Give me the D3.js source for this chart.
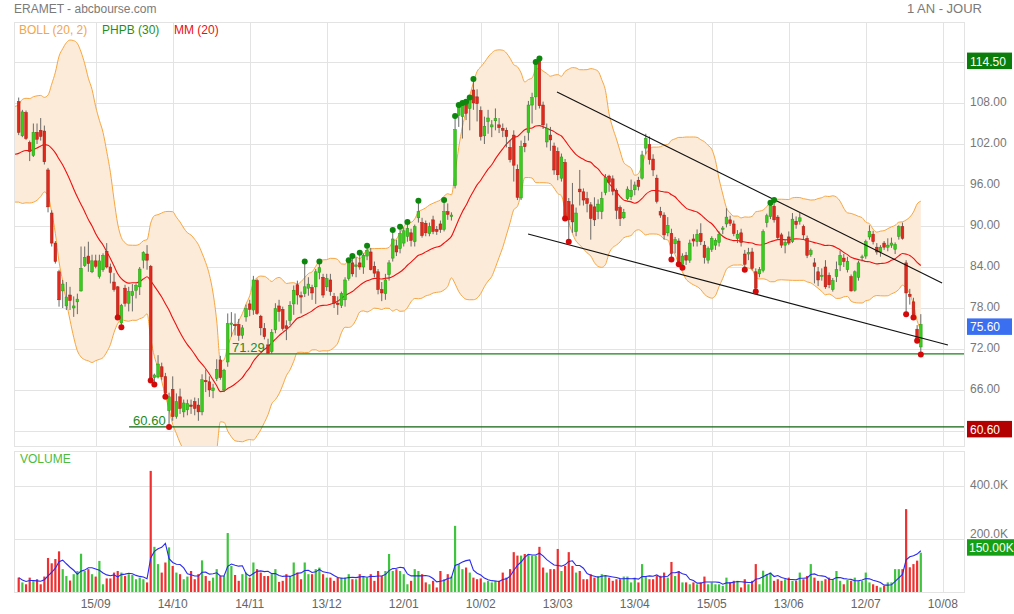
<!DOCTYPE html>
<html><head><meta charset="utf-8">
<script src="https://cdn.jsdelivr.net/npm/d3@7/dist/d3.min.js"></script>
<style>body{margin:0;background:#fff;}svg{display:block;font-family:"Liberation Sans",Arial,sans-serif;}</style>
</head><body><svg id="c" width="1014" height="614"></svg>
<script>
// ---------- DATA ----------
const opens=[108.2,103.2,106.6,102.2,100.3,103.7,104.0,103.9,98.2,91.9,
87.5,83.3,80.5,78.3,79.9,78.0,78.9,80.5,84.2,85.6,
83.3,84.9,82.6,83.6,86.3,84.0,81.8,81.1,75.8,80.9,
78.7,79.8,80.6,81.1,85.0,85.9,84.1,67.8,67.9,69.4,
67.95,63.0,66.1,62.1,65.0,62.8,63.1,63.8,64.3,63.8,
62.8,67.4,67.2,65.9,67.7,70.4,66.0,70.1,75.6,75.6,
75.6,74.0,76.7,78.6,77.7,82.0,76.8,75.0,72.6,71.6,
74.8,78.3,77.8,75.4,76.2,78.6,81.4,79.8,80.1,80.9,
81.0,81.1,83.2,82.5,81.1,82.1,79.7,78.7,78.4,79.2,
82.3,84.6,84.1,84.6,84.0,85.6,86.2,84.1,83.3,80.7,
80.1,82.9,85.3,87.1,86.7,87.5,88.5,89.0,87.7,91.2,
90.5,90.4,88.9,90.9,89.5,90.3,89.5,92.1,91.4,95.9,
106.2,106.0,107.9,107.2,109.9,108.9,106.9,103.2,105.3,104.5,
105.4,104.8,104.3,104.0,101.5,103.3,98.3,94.1,102.1,103.7,
107.7,108.9,114.2,107.7,102.3,103.3,101.7,100.9,97.0,99.3,
93.6,93.1,89.2,95.4,95.0,94.0,93.1,92.8,92.1,92.1,
94.9,97.3,96.9,95.2,92.7,91.2,94.0,94.3,95.3,96.7,
97.0,101.4,101.9,99.8,97.0,92.1,91.6,89.0,88.9,87.4,
87.8,84.4,85.7,85.0,88.1,87.7,88.9,87.2,85.0,86.6,
87.2,87.6,89.5,90.3,90.9,90.3,88.2,89.0,85.9,85.9,
86.2,83.3,83.0,83.5,90.5,91.4,92.9,91.3,88.7,87.2,
88.4,87.7,90.7,90.7,89.9,88.2,85.8,84.6,83.3,82.6,
84.0,82.8,80.7,82.6,84.3,85.3,83.6,82.6,80.6,82.5,
85.4,85.6,88.4,88.8,86.9,86.2,87.5,86.9,87.2,86.6,
88.5,89.9,84.6,80.0,78.9,74.9,72.3];
const highs=[108.8,107.0,106.9,102.5,105.0,105.0,105.8,104.7,98.5,92.3,
87.8,83.6,82.1,81.8,81.1,79.7,80.1,87.0,87.0,87.7,
85.8,85.8,85.8,86.0,87.5,84.5,83.1,81.2,78.6,81.4,
81.1,81.5,81.6,84.0,86.3,87.2,84.3,68.4,71.1,70.0,
68.5,65.6,68.0,65.5,66.2,64.6,64.6,64.6,64.9,64.8,
68.3,69.0,68.0,66.9,70.5,71.0,69.1,77.2,77.4,77.2,
76.4,75.5,78.5,79.2,82.7,82.3,77.0,75.8,73.5,74.9,
78.7,79.2,78.2,76.2,79.0,81.3,82.0,80.4,84.8,82.5,
81.4,83.7,84.8,83.0,83.0,83.0,80.2,79.7,80.4,82.5,
85.0,85.6,85.4,86.1,86.0,87.1,86.8,84.8,83.7,81.8,
83.0,85.0,89.4,88.0,89.9,89.8,90.6,89.6,90.2,93.7,
91.2,90.8,90.5,91.5,90.0,90.8,93.8,93.3,92.0,106.1,
107.7,108.0,108.2,108.8,111.5,110.0,107.5,106.0,107.0,105.5,
107.2,105.8,105.0,104.4,102.6,104.0,99.0,102.5,103.2,108.3,
109.5,114.0,114.5,108.2,105.0,104.5,102.2,101.5,100.6,99.8,
94.1,96.3,92.7,98.2,95.5,95.0,93.5,94.2,93.9,95.0,
97.6,97.5,97.4,95.5,93.0,92.5,95.8,96.8,96.5,97.2,
101.0,103.5,103.1,100.5,97.5,92.8,92.0,91.3,89.6,88.4,
88.2,86.0,86.2,88.0,88.8,89.5,90.4,87.8,87.0,88.5,
88.2,89.2,90.0,92.6,91.5,90.8,89.4,89.6,86.5,86.8,
86.8,83.8,84.0,89.5,91.8,93.4,93.8,91.6,89.0,88.0,
89.2,91.9,91.4,91.9,90.2,88.6,86.7,85.3,84.0,83.8,
85.0,83.2,82.4,84.8,86.4,85.9,85.5,82.9,83.5,84.9,
85.8,88.0,90.1,89.3,87.5,87.2,87.8,88.2,88.3,87.6,
90.1,90.5,85.0,80.8,79.5,75.5,77.1];
const lows=[103.3,103.0,102.6,99.5,100.1,102.0,102.5,99.0,92.0,87.0,
84.5,78.2,78.0,77.7,77.7,76.7,77.1,80.4,84.0,83.3,
83.1,83.8,82.3,83.3,83.8,81.6,80.4,76.6,75.2,78.2,
77.5,77.5,79.4,79.9,83.8,83.6,67.4,66.8,67.7,67.5,
65.0,60.6,61.5,61.8,62.5,62.0,62.3,62.5,62.3,61.5,
62.3,65.7,65.0,64.8,67.3,67.5,65.7,69.4,73.8,74.0,
73.2,73.5,76.0,76.8,77.0,77.0,74.0,73.4,71.29,71.3,
74.3,76.0,74.7,73.3,75.5,77.0,78.5,77.2,79.6,79.8,
79.2,78.6,82.2,79.5,80.5,79.8,78.0,77.0,78.0,78.2,
82.0,82.6,82.5,83.6,83.0,85.0,83.5,82.5,80.0,79.0,
79.2,82.0,84.8,85.6,86.0,87.0,87.7,87.0,87.0,90.5,
88.3,88.5,88.5,88.8,88.7,89.0,89.2,90.9,90.8,95.5,
104.5,102.8,105.5,104.0,107.0,105.3,102.5,102.0,103.5,103.0,
104.0,103.6,103.0,101.5,99.3,96.5,93.8,93.8,100.8,102.5,
105.0,107.0,107.2,104.2,101.5,101.0,97.5,96.7,96.5,91.1,
87.7,89.0,88.5,93.0,93.0,92.0,88.0,90.0,91.0,91.0,
94.5,95.0,94.5,91.0,90.0,91.0,93.8,93.8,94.5,95.2,
96.8,100.5,99.0,97.3,93.3,91.2,88.0,88.5,85.1,86.0,
84.4,83.9,84.3,84.6,87.0,87.0,87.2,84.5,84.5,86.2,
86.5,87.0,88.8,89.8,90.0,88.5,87.5,87.0,83.6,85.0,
83.5,80.4,82.5,83.2,89.8,91.0,90.5,88.0,86.8,86.0,
87.2,87.5,89.6,90.2,88.0,85.3,85.5,81.6,81.2,82.0,
80.8,80.9,80.4,81.8,83.4,84.0,83.2,80.4,80.4,82.0,
84.8,85.2,88.0,87.3,85.8,85.5,86.5,86.3,86.8,85.9,
88.0,88.0,77.1,78.5,76.6,73.2,71.2];
const closes=[103.7,106.7,102.8,100.9,103.7,102.7,103.1,99.4,92.8,87.5,
84.8,79.2,81.5,79.6,79.1,78.3,79.3,83.8,85.4,84.5,
84.9,84.1,84.9,85.7,84.0,83.2,80.7,77.0,78.4,78.7,
80.4,80.4,81.3,83.7,86.1,85.0,67.5,68.2,69.8,67.95,
65.5,65.0,62.1,64.3,63.3,64.1,64.0,63.6,63.3,62.8,
67.5,67.2,66.0,66.3,69.0,67.8,68.9,75.7,75.8,75.4,
74.0,75.1,77.9,77.8,82.1,77.2,75.1,73.8,71.4,74.4,
77.9,77.5,75.0,75.0,78.4,80.6,79.9,79.6,81.1,81.5,
80.2,83.3,83.9,79.9,82.3,80.4,78.7,78.5,80.1,82.1,
84.6,83.0,84.3,84.0,85.7,86.4,83.6,83.1,80.7,80.2,
82.1,84.6,88.1,86.2,88.9,89.3,89.6,87.9,89.9,92.1,
88.6,89.0,89.9,89.2,89.2,89.5,92.1,91.7,91.6,104.1,
107.4,107.7,106.5,108.6,108.0,107.9,103.1,104.6,105.8,104.8,
105.7,104.4,104.0,103.1,99.7,98.9,94.2,101.6,101.6,107.7,
108.8,113.8,107.6,104.8,104.3,102.6,98.2,97.5,100.1,91.2,
90.9,90.6,91.9,95.0,93.8,93.3,91.1,90.9,93.2,94.0,
97.1,96.4,95.1,92.3,91.1,92.0,95.4,95.2,96.0,95.8,
100.4,102.8,99.7,98.2,93.6,91.6,88.7,90.1,86.0,88.0,
84.8,85.6,85.0,87.5,87.8,88.8,87.7,85.4,86.7,88.2,
87.9,88.8,89.7,91.3,90.4,88.9,88.8,87.6,84.4,86.1,
83.8,80.9,83.6,89.2,91.5,93.0,90.9,88.3,87.2,87.6,
87.5,91.0,90.2,91.2,88.7,85.7,86.4,84.1,82.1,82.8,
81.1,81.4,82.0,83.6,85.7,84.8,84.8,80.5,83.3,84.6,
85.5,87.7,89.2,87.7,86.2,86.9,86.9,87.2,87.5,87.3,
89.9,88.2,80.2,79.7,76.9,73.4,75.6];
// volumes in thousands of shares
const volumesK=[56,38,31,56,44,50,31,60,
130,110,126,155,88,62,45,69,
81,146,81,88,69,60,119,31,
53,53,75,81,75,62,69,66,
50,56,50,38,458,172,107,75,
113,170,100,75,69,50,60,81,
50,69,121,62,44,56,88,62,
62,224,100,66,44,69,75,56,
113,88,75,62,62,69,88,40,
44,69,62,113,75,50,113,69,
69,88,94,69,56,56,44,56,
56,56,69,50,50,69,62,56,
69,44,81,62,81,145,81,88,
81,69,31,44,88,81,69,38,
31,44,19,81,50,69,60,251,
107,88,94,75,56,50,53,38,
44,38,44,44,75,56,88,152,
139,139,145,145,139,139,172,94,
75,88,88,164,81,100,152,100,
75,81,50,50,69,56,62,69,
62,56,44,50,50,60,60,38,
56,38,107,62,50,50,62,63,
75,56,115,62,81,38,38,31,
38,31,38,60,31,38,31,31,
25,56,38,44,44,19,50,31,
44,107,31,82,69,75,44,50,
44,50,56,44,44,75,50,62,
107,56,44,44,50,56,50,81,
44,31,47,44,56,44,44,75,
38,31,25,19,25,38,38,88,
88,88,314,95,107,120,150];
// closes before the first visible session (needed for the 20-day window)
const priorCloses=[101.2,101.0,100.3,101.5,100.0,98.5,97.0,95.5,94.7,96.3,98.0,97.4,99.1,100.7,102.3,104.0,103.1,105.3,106.7,107.5];
const dateLabels=["15/09","14/10","14/11","13/12","12/01","10/02","13/03","13/04","15/05","13/06","12/07","10/08"];
const dateIdx=[21,42,63,84,105,126,147,168,189,210,231,252];
const priceTicks=[108,102,96,90,84,78,72,66];
const gridPrices=[114,108,102,96,90,84,78,72,66,60];
const volTicks=[400000,200000];
const phIdx=[78,82,90,91,93,95,102,104,106,109,116,119,120,121,122,123,124,141,142,205,206];
const pbIdx=[27,28,36,37,40,41,149,150,178,180,181,198,201,242,244,245,246];
const trendLines=[{i0:146.8,p0:109.6,i1:251.8,p1:81.66},{i0:138.9,p0:88.83,i1:253.4,p1:72.59}];
const levels=[{price:71.29,i0:57.1,label:"71.29",color:"#188018"},{price:60.60,i0:30.1,label:"60.60",color:"#126012"}];
const maxHigh=114.50, minLow=60.60, lastClose=75.60, lastVol=150000;

// ---------- LAYOUT ----------
const L=14,R=964,PT=22,PB=446,VT=451,VB=592;
const svg=d3.select("#c");
const x=d3.scaleLinear().domain([0,252]).range([18.7,942.8]);
const y=d3.scaleLinear().domain([60,114]).range([431,62]);
const yv=d3.scaleLinear().domain([0,400000]).range([592.5,486.3]);
const GRID="#e3e3e3";

const defs=svg.append("defs");
defs.append("clipPath").attr("id","pclip").append("rect").attr("x",L).attr("y",PT).attr("width",R-L).attr("height",PB-PT);
defs.append("clipPath").attr("id","vclip").append("rect").attr("x",L).attr("y",VT).attr("width",R-L).attr("height",VB-VT);

// title
svg.append("text").attr("x",14).attr("y",13).attr("font-size",12).attr("fill","#7a7a7a").text("ERAMET - abcbourse.com");
svg.append("text").attr("x",982).attr("y",13).attr("font-size",13).attr("fill","#7a7a7a").attr("text-anchor","end").text("1 AN - JOUR");

// grids
const g=svg.append("g");
g.selectAll(".hg").data(gridPrices).join("line").attr("x1",L).attr("x2",R).attr("y1",d=>Math.round(y(d))+0.5).attr("y2",d=>Math.round(y(d))+0.5).attr("stroke",GRID);
g.selectAll(".vg").data(dateIdx).join("line").attr("x1",d=>Math.round(x(d))+0.5).attr("x2",d=>Math.round(x(d))+0.5).attr("y1",PT).attr("y2",PB).attr("stroke",GRID);
g.selectAll(".vg2").data(dateIdx).join("line").attr("x1",d=>Math.round(x(d))+0.5).attr("x2",d=>Math.round(x(d))+0.5).attr("y1",VT).attr("y2",VB).attr("stroke",GRID);
g.selectAll(".vh").data(volTicks).join("line").attr("x1",L).attr("x2",R).attr("y1",d=>Math.round(yv(d))+0.5).attr("y2",d=>Math.round(yv(d))+0.5).attr("stroke",GRID);
[[PT,PB],[VT,VB]].forEach(([t,b])=>{
  g.append("rect").attr("x",L+0.5).attr("y",t+0.5).attr("width",R-L).attr("height",b-t).attr("fill","none").attr("stroke",GRID);
});

// legend
svg.append("text").attr("x",19).attr("y",34).attr("font-size",12).attr("fill","#f6a545").text("BOLL (20, 2)");
svg.append("text").attr("x",102).attr("y",34).attr("font-size",12).attr("fill","#1f8f1f").text("PHPB (30)");
svg.append("text").attr("x",174).attr("y",34).attr("font-size",12).attr("fill","#e81010").text("MM (20)");

// ---------- INDICATORS ----------
const all=priorCloses.concat(closes);
const P=priorCloses.length;
const boll=[];
for(let i=-1;i<closes.length;i++){
  const k=i+P;
  const w=all.slice(k-19,k+1);
  const m=d3.mean(w);
  const sd=Math.sqrt(d3.mean(w,v=>(v-m)*(v-m)));
  boll.push({i,m,up:m+2*sd,lo:m-2*sd});
}
const pg=svg.append("g").attr("clip-path","url(#pclip)");
pg.append("path").datum(boll).attr("fill","#fdebd9").attr("d",d3.area().x(d=>x(d.i)).y0(d=>y(d.lo)).y1(d=>y(d.up)).curve(d3.curveMonotoneX));
pg.append("path").datum(boll).attr("fill","none").attr("stroke","#f7a640").attr("stroke-width",1).attr("d",d3.line().x(d=>x(d.i)).y(d=>y(d.up)).curve(d3.curveMonotoneX));
pg.append("path").datum(boll).attr("fill","none").attr("stroke","#f7a640").attr("stroke-width",1).attr("d",d3.line().x(d=>x(d.i)).y(d=>y(d.lo)).curve(d3.curveMonotoneX));
pg.append("path").datum(boll).attr("fill","none").attr("stroke","#ee1010").attr("stroke-width",1.1).attr("d",d3.line().x(d=>x(d.i)).y(d=>y(d.m)).curve(d3.curveMonotoneX));

// levels
levels.forEach(l=>{
  pg.append("line").attr("x1",x(l.i0)).attr("x2",R).attr("y1",y(l.price)).attr("y2",y(l.price)).attr("stroke",l.color).attr("stroke-width",1.1);
  pg.append("text").attr("x",x(l.i0)+4).attr("y",y(l.price)-2).attr("font-size",13).attr("fill","#1c8a1c").text(l.label);
});

// candles
const bars=d3.range(closes.length).map(i=>({i,o:opens[i],h:highs[i],l:lows[i],c:closes[i],v:volumesK[i]*1000}));
const cg=pg.append("g");
cg.selectAll("line").data(bars).join("line")
  .attr("x1",d=>x(d.i)).attr("x2",d=>x(d.i)).attr("y1",d=>y(d.h)).attr("y2",d=>y(d.l)).attr("stroke","#5a5a5a").attr("stroke-width",0.9);
cg.selectAll("rect").data(bars).join("rect")
  .attr("x",d=>x(d.i)-1.35).attr("width",2.7)
  .attr("y",d=>y(Math.max(d.o,d.c)))
  .attr("height",d=>Math.max(1,Math.abs(y(d.o)-y(d.c))))
  .attr("fill",d=>d.c>=d.o?"#38cc1c":"#e0281c")
  .attr("stroke",d=>d.c>=d.o?"#279a14":"#a81c12").attr("stroke-width",0.5);

// trend lines
pg.selectAll(".tl").data(trendLines).join("line")
  .attr("x1",d=>x(d.i0)).attr("y1",d=>y(d.p0)).attr("x2",d=>x(d.i1)).attr("y2",d=>y(d.p1))
  .attr("stroke","#111").attr("stroke-width",1.1);

// PHPB dots
pg.selectAll(".ph").data(phIdx).join("circle").attr("cx",i=>x(i)).attr("cy",i=>y(highs[i])).attr("r",3).attr("fill","#0e870e");
pg.selectAll(".pb").data(pbIdx).join("circle").attr("cx",i=>x(i)).attr("cy",i=>y(lows[i])).attr("r",3).attr("fill","#d40a0a");

// price axis labels
svg.selectAll(".pl").data(priceTicks).join("text").attr("x",970).attr("y",d=>y(d)+3).attr("font-size",12).attr("fill","#777").text(d=>d.toFixed(2));
function box(py,txt,col,h){
  svg.append("rect").attr("x",967).attr("y",py).attr("width",45).attr("height",h||16.5).attr("fill",col);
  svg.append("text").attr("x",970).attr("y",py+13).attr("font-size",12).attr("fill","#fff").text(txt);
}
box(y(maxHigh)-6,maxHigh.toFixed(2),"#0b7d0b");
box(y(lastClose)-6,lastClose.toFixed(2),"#3b6ff2");
box(y(minLow)-6,minLow.toFixed(2),"#b30000");

// ---------- VOLUME ----------
svg.append("text").attr("x",20).attr("y",463).attr("font-size",12).attr("fill","#4cbc3c").text("VOLUME");
const vg=svg.append("g").attr("clip-path","url(#vclip)");
vg.selectAll("rect").data(bars).join("rect")
  .attr("x",d=>x(d.i)-1.1).attr("width",2.2)
  .attr("y",d=>yv(d.v)).attr("height",d=>yv(0)-yv(d.v))
  .attr("fill",d=>d.c>=d.o?"#3fc43f":"#f03030");
const vma=bars.map((d,i)=>{const w=bars.slice(Math.max(0,i-4),i+1);return {i,v:d3.mean(w,b=>b.v)};});
vg.append("path").datum(vma).attr("fill","none").attr("stroke","#2a2af0").attr("stroke-width",1.1)
  .attr("d",d3.line().x(d=>x(d.i)).y(d=>yv(d.v)));
svg.selectAll(".vl").data(volTicks).join("text").attr("x",970).attr("y",d=>yv(d)+(d===200000?-1.5:3)).attr("font-size",12).attr("fill","#777").text(d=>(d/1000).toFixed(1)+"K");
svg.append("rect").attr("x",967).attr("y",yv(lastVol)-13.5).attr("width",47).attr("height",16.5).attr("fill","#159f15");
svg.append("text").attr("x",969).attr("y",yv(lastVol)-0.5).attr("font-size",12).attr("fill","#fff").text((lastVol/1000).toFixed(2)+"K");

// date labels
svg.selectAll(".dl").data(dateIdx).join("text").attr("x",(d)=>x(d)).attr("y",608).attr("font-size",12).attr("fill","#666").attr("text-anchor","middle").text((d,k)=>dateLabels[k]);
</script></body></html>
